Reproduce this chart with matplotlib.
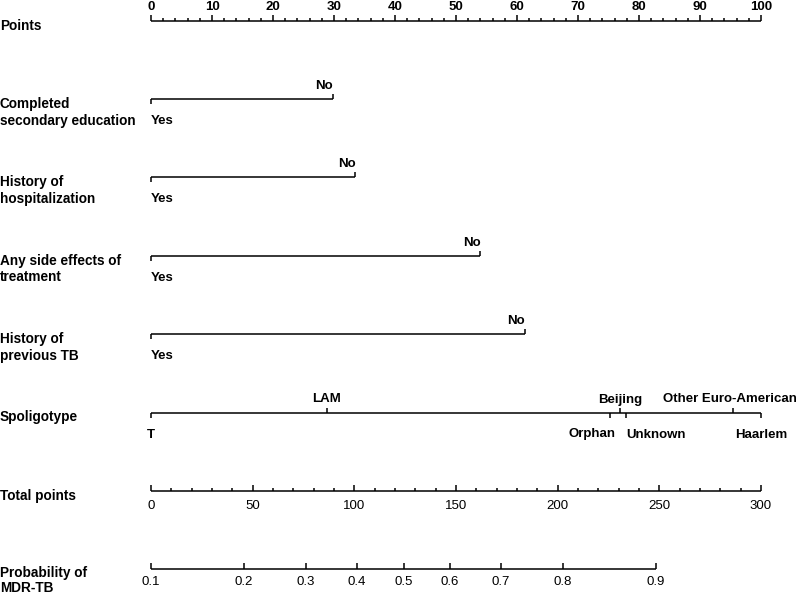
import numpy as np
import matplotlib
matplotlib.use('Agg')
import matplotlib.pyplot as plt

matplotlib.rcParams.update({
    'font.family': 'Liberation Sans',
    'font.size': 9.5,
})

# ---- data (points scale 0-100) ----
row_names = ['Points', 'Completed\nsecondary education', 'History of\nhospitalization',
             'Any side effects of\ntreatment', 'History of\nprevious TB', 'Spoligotype',
             'Total points', 'Probability of\nMDR-TB']

edu_levels = ['Yes', 'No']
edu_points = [0, 29.8]
hosp_levels = ['Yes', 'No']
hosp_points = [0, 33.5]
side_levels = ['Yes', 'No']
side_points = [0, 54.0]
prevtb_levels = ['Yes', 'No']
prevtb_points = [0, 61.3]
spol_levels = ['T', 'LAM', 'Orphan', 'Beijing', 'Unknown', 'Other Euro-American', 'Haarlem']
spol_points = [0, 28.8, 75.2, 76.9, 77.9, 95.4, 100]

total_max = 300
prob_ticks = [0.1, 0.2, 0.3, 0.4, 0.5, 0.6, 0.7, 0.8, 0.9]
# linear predictor: logit(p) = b0 + b1 * total points
b0 = -2.197
b1 = 0.01769

# ---- layout (pixels) ----
W, H = 798, 595
X0, X1 = 151, 761
ROW0, ROWSTEP = 20.5, 78.4
PX = (X1 - X0) / 100.0

fig = plt.figure(figsize=(W / 100, H / 100), dpi=100)
ax = fig.add_axes([0, 0, 1, 1])
ax.set_xlim(-X0 / PX, (W - X0) / PX)
ax.set_ylim((H - ROW0) / ROWSTEP, -ROW0 / ROWSTEP)
ax.axis('off')

LW = 1.1
pt = 0.72  # points per pixel


def tick(x, row, length, up):
    d = length / ROWSTEP
    ax.plot([x, x], [row, row - d if up else row + d], color='black', lw=LW, solid_capstyle='butt')


def label(x, row, s, above, ha='center', weight='bold', dy=None, dx=0):
    if above:
        off = -(7 if dy is None else dy)
        va = 'bottom'
    else:
        off = (16 if dy is None else dy)
        va = 'top'
    ax.annotate(s, (x, row), xytext=(dx * pt, -off * pt), textcoords='offset points',
                ha=ha, va=va, fontweight=weight, fontsize=9.5)


def hline(a, b, row):
    ax.plot([a, b], [row, row], color='black', lw=LW, solid_capstyle='butt')


# row labels on the left
for r, name in enumerate(row_names):
    last = r == len(row_names) - 1
    ax.annotate(name, (-X0 / PX, r), xytext=(0, (3.5 if last else 2) * pt), textcoords='offset points',
                ha='left', va='top', fontweight='bold', fontsize=9.8,
                linespacing=1.08 if last else 1.25)

# Points axis
hline(0, 100, 0)
for v in np.arange(0, 101, 2):
    major = v % 10 == 0
    tick(v, 0, 6 if major else 3, True)
    if major:
        label(v, 0, str(int(v)), True)

# binary variables
for r, (levels, pts) in enumerate([(edu_levels, edu_points), (hosp_levels, hosp_points),
                                    (side_levels, side_points), (prevtb_levels, prevtb_points)], start=1):
    hline(min(pts), max(pts), r)
    tick(pts[0], r, 5, False)
    tick(pts[1], r, 5, True)
    label(pts[0], r, levels[0], False, ha='left')
    label(pts[1], r, levels[1], True, ha='right')

# spoligotype
spol_above = [False, True, False, True, False, True, False]
spol_ha = ['center', 'center', 'right', 'center', 'left', 'center', 'center']
spol_dx = [0, 0, 6, 0, 0, -3, 0]
hline(min(spol_points), max(spol_points), 5)
for lv, p, up, ha, dx in zip(spol_levels, spol_points, spol_above, spol_ha, spol_dx):
    tick(p, 5, 5, up)
    label(p, 5, lv, up, ha=ha, dx=dx)

# total points axis
sc = 100.0 / total_max
hline(0, 100, 6)
for v in np.arange(0, total_max + 1, 10):
    major = v % 50 == 0
    tick(v * sc, 6, 6 if major else 3, True)
    if major:
        label(v * sc, 6, str(int(v)), False, weight='normal', dy=9)

# probability axis
prob_pos = [(np.log(p / (1 - p)) - b0) / b1 * sc for p in prob_ticks]
hline(prob_pos[0], prob_pos[-1], 7)
for p, x in zip(prob_ticks, prob_pos):
    tick(x, 7, 6, True)
    label(x, 7, str(p), False, weight='normal', dy=7)

fig.savefig('out.png', dpi=100)
